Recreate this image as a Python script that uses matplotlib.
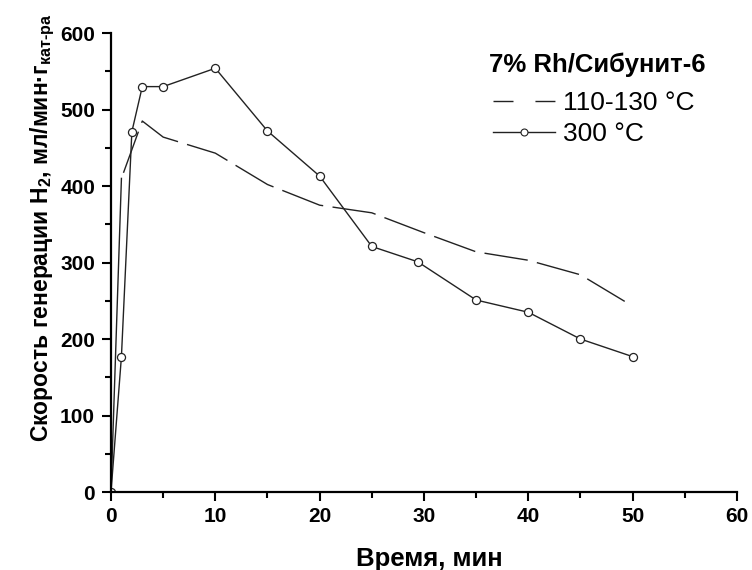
"""
Rate of H2 generation over 7% Rh/Sibunit-6 at two temperatures.
"""

import matplotlib.pyplot as plt
from matplotlib.lines import Line2D
from matplotlib.ticker import MultipleLocator

plt.rcParams['font.family'] = ['Liberation Sans', 'DejaVu Sans']
plt.rcParams['mathtext.fontset'] = 'custom'
plt.rcParams['mathtext.rm'] = 'Liberation Sans:bold'
plt.rcParams['mathtext.it'] = 'Liberation Sans:bold'
plt.rcParams['mathtext.bf'] = 'Liberation Sans:bold'

# 110-130 C series (dashed line, no markers)
time_low = [0, 1, 3, 5, 10, 15, 20, 25, 30, 35, 40, 45, 50]
rate_low = [0, 410, 485, 464, 443, 402, 375, 365, 339, 314, 303, 284, 243]

# 300 C series (solid line, open circles)
time_high = [0, 1, 2, 3, 5, 10, 15, 20, 25, 29.4, 35, 40, 45, 50]
rate_high = [0, 177, 471, 530, 530, 554, 472, 413, 321, 301, 251, 235, 200, 177]

legend_title = '7% Rh/Сибунит-6'
label_low = '110-130 °C'
label_high = '300 °C'

line_color = '#222222'

fig = plt.figure(figsize=(7.52, 5.70), dpi=100)
ax = fig.add_axes([0.1476, 0.1368, 0.8324, 0.8052])

# first rise of the dashed curve is drawn in one piece, as in the original
ax.plot(time_low[:2], rate_low[:2], color=line_color, lw=1.0)
ax.plot(time_low[1:], rate_low[1:], color=line_color, lw=1.0,
        linestyle=(34, (31.5, 6.8)))

ax.plot(time_high, rate_high, color=line_color, lw=1.0, marker='o',
        markersize=5.8, markerfacecolor='white', markeredgecolor=line_color,
        markeredgewidth=0.9)

ax.set_xlim(0, 60)
ax.set_ylim(0, 600)
ax.xaxis.set_major_locator(MultipleLocator(10))
ax.xaxis.set_minor_locator(MultipleLocator(5))
ax.yaxis.set_major_locator(MultipleLocator(100))
ax.yaxis.set_minor_locator(MultipleLocator(50))

for side in ['top', 'right']:
    ax.spines[side].set_visible(False)
for side in ['left', 'bottom']:
    ax.spines[side].set_linewidth(1.6)

ax.tick_params(which='major', direction='out', length=6.5, width=1.5,
               labelsize=15)
ax.tick_params(axis='y', which='major', pad=5)
ax.tick_params(axis='x', which='major', pad=4)
ax.tick_params(which='minor', direction='out', length=4.3, width=1.5)
for lbl in ax.get_xticklabels() + ax.get_yticklabels():
    lbl.set_fontweight('bold')

ax.set_xlabel('Время, мин', fontsize=18.5, fontweight='bold')
ax.set_ylabel('Скорость генерации H$_{2}$, мл/мин·г$_{кат\u2010ра}$',
              fontsize=16.5, fontweight='bold')
ax.xaxis.set_label_coords(0.508, -0.12)
ax.yaxis.set_label_coords(-0.0863, 0.575)

# legend heading as its own text, the entries below it
ax.text(0.604, 0.9157, legend_title, transform=ax.transAxes,
        fontsize=18.5, fontweight='bold', ha='left', va='baseline')

handles = [
    Line2D([], [], color=line_color, lw=1.0, linestyle=(0, (14.4, 15.8))),
    Line2D([], [], color=line_color, lw=1.0, marker='o', markersize=5,
           markerfacecolor='white', markeredgecolor=line_color,
           markeredgewidth=0.8),
]
ax.legend(handles, [label_low, label_high],
          loc='upper left', bbox_to_anchor=(0.610, 0.874),
          borderaxespad=0, borderpad=0,
          frameon=False, fontsize=19, handlelength=2.35,
          handletextpad=0.32, labelspacing=0.28)

plt.savefig('out.png', dpi=100)
